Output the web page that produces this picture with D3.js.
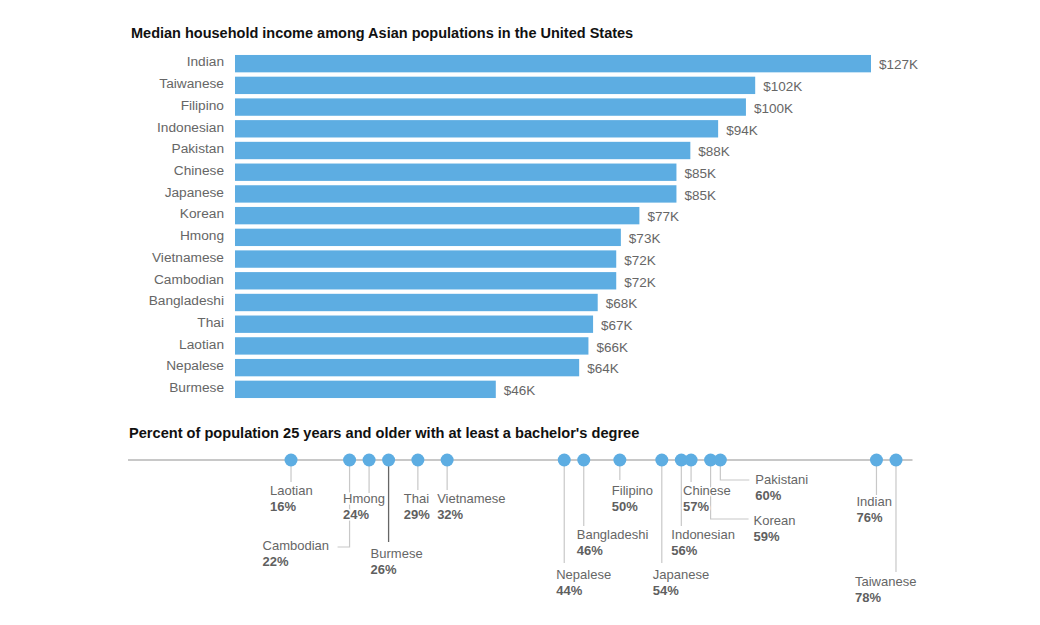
<!DOCTYPE html>
<html>
<head>
<meta charset="utf-8">
<script src="https://cdn.jsdelivr.net/npm/d3@7"></script>
<style>
  html, body { margin: 0; padding: 0; background: #fff; }
  svg { display: block; font-family: "Liberation Sans", Arial, Helvetica, sans-serif; }
</style>
</head>
<body>
<svg id="chart" width="1040" height="625"></svg>
<script>
// ---------- data ----------
const incomeTitle = "Median household income among Asian populations in the United States";
const incomeGroups = ["Indian","Taiwanese","Filipino","Indonesian","Pakistan","Chinese","Japanese","Korean","Hmong","Vietnamese","Cambodian","Bangladeshi","Thai","Laotian","Nepalese","Burmese"];
const incomeValues = [127,102,100,94,88,85,85,77,73,72,72,68,67,66,64,46]; // $K

const eduTitle = "Percent of population 25 years and older with at least a bachelor's degree";
const eduGroups = ["Laotian","Cambodian","Hmong","Burmese","Thai","Vietnamese","Nepalese","Bangladeshi","Filipino","Japanese","Indonesian","Chinese","Korean","Pakistani","Indian","Taiwanese"];
const eduValues = [16,22,24,26,29,32,44,46,49.7,54,56,57,59,60,76,78]; // percent

// ---------- layout (label placement for the dot plot) ----------
// dx: text left offset from dot, ny: name baseline, ly: leader end y, hx: elbow x offset
const eduLabelLayout = {
  Laotian:    {dx:-21, ny:495, ly:482},
  Cambodian:  {dx:-87, ny:550, ly:547, hx:-12},
  Hmong:      {dx:-26, ny:503, ly:493},
  Burmese:    {dx:-18, ny:558, ly:542, dark:true},
  Thai:       {dx:-14, ny:503, ly:490},
  Vietnamese: {dx:-10, ny:503, ly:490},
  Nepalese:   {dx:-8,  ny:579, ly:563},
  Bangladeshi:{dx:-7,  ny:539, ly:526},
  Filipino:   {dx:-8,  ny:495, ly:480},
  Japanese:   {dx:-9,  ny:579, ly:563},
  Indonesian: {dx:-10, ny:539, ly:526},
  Chinese:    {dx:-8,  ny:495, ly:482},
  Korean:     {dx:43,  ny:525, ly:519, hx:38},
  Pakistani:  {dx:35,  ny:484, ly:480, hx:29},
  Indian:     {dx:-20, ny:506, ly:495},
  Taiwanese:  {dx:-41, ny:586, ly:572}
};

const BLUE = "#5dade2";
const svg = d3.select("#chart");

// ---------- bar chart ----------
svg.append("text")
  .attr("x", 131).attr("y", 38)
  .attr("font-size", 14.5).attr("font-weight", "bold").attr("fill", "#111")
  .text(incomeTitle);

const x = d3.scaleLinear().domain([-10.3, 127]).range([235, 871]);
const y = d3.scaleBand().domain(incomeGroups).range([52.8, 400.2]).paddingInner(0.2).paddingOuter(0.1);

const rows = svg.append("g").selectAll("g")
  .data(incomeGroups.map((g, i) => ({g, v: incomeValues[i]})))
  .join("g");

rows.append("rect")
  .attr("x", x(-10.3))
  .attr("y", d => y(d.g))
  .attr("width", d => x(d.v) - x(-10.3))
  .attr("height", y.bandwidth())
  .attr("fill", BLUE);

rows.append("text")
  .attr("x", x(-10.3) - 11)
  .attr("y", d => y(d.g) + y.bandwidth() / 2 - 2)
  .attr("dy", "0.35em")
  .attr("text-anchor", "end")
  .attr("font-size", 13.7).attr("fill", "#666")
  .text(d => d.g);

rows.append("text")
  .attr("x", d => x(d.v) + 8)
  .attr("y", d => y(d.g) + y.bandwidth() / 2 + 1)
  .attr("dy", "0.35em")
  .attr("font-size", 13.5).attr("fill", "#666")
  .text(d => "$" + d.v + "K");

// ---------- dot plot ----------
svg.append("text")
  .attr("x", 129).attr("y", 438)
  .attr("font-size", 14.6).attr("font-weight", "bold").attr("fill", "#111")
  .text(eduTitle);

const ex = d3.scaleLinear().domain([0, 80]).range([134.9, 915.5]);
const axisY = 460;

svg.append("line")
  .attr("x1", 128).attr("x2", 912.5)
  .attr("y1", axisY).attr("y2", axisY)
  .attr("stroke", "#c8c8c8").attr("stroke-width", 2);

const edu = eduGroups.map((g, i) => ({g, v: eduValues[i], L: eduLabelLayout[g]}));

// leader lines
svg.append("g").selectAll("path")
  .data(edu)
  .join("path")
  .attr("d", d => {
    const cx = ex(d.v);
    let p = `M${cx},${axisY}V${d.L.ly}`;
    if (d.L.hx !== undefined) p += `H${cx + d.L.hx}`;
    return p;
  })
  .attr("fill", "none")
  .attr("stroke", d => d.L.dark ? "#666" : "#c8c8c8")
  .attr("stroke-width", d => d.L.dark ? 1.3 : 1.2);

// dots
svg.append("g").selectAll("circle")
  .data(edu)
  .join("circle")
  .attr("cx", d => ex(d.v))
  .attr("cy", axisY)
  .attr("r", 6.5)
  .attr("fill", BLUE);

// labels
const lab = svg.append("g").selectAll("g")
  .data(edu)
  .join("g");

lab.append("text")
  .attr("x", d => ex(d.v) + d.L.dx)
  .attr("y", d => d.L.ny)
  .attr("font-size", 13).attr("fill", "#666")
  .attr("stroke", "#fff").attr("stroke-width", 3).attr("paint-order", "stroke")
  .text(d => d.g);

lab.append("text")
  .attr("x", d => ex(d.v) + d.L.dx)
  .attr("y", d => d.L.ny + 16)
  .attr("font-size", 13).attr("font-weight", "bold").attr("fill", "#5f5f5f")
  .attr("stroke", "#fff").attr("stroke-width", 3).attr("paint-order", "stroke")
  .text(d => d3.format(".0f")(d.v) + "%");
</script>
</body>
</html>
